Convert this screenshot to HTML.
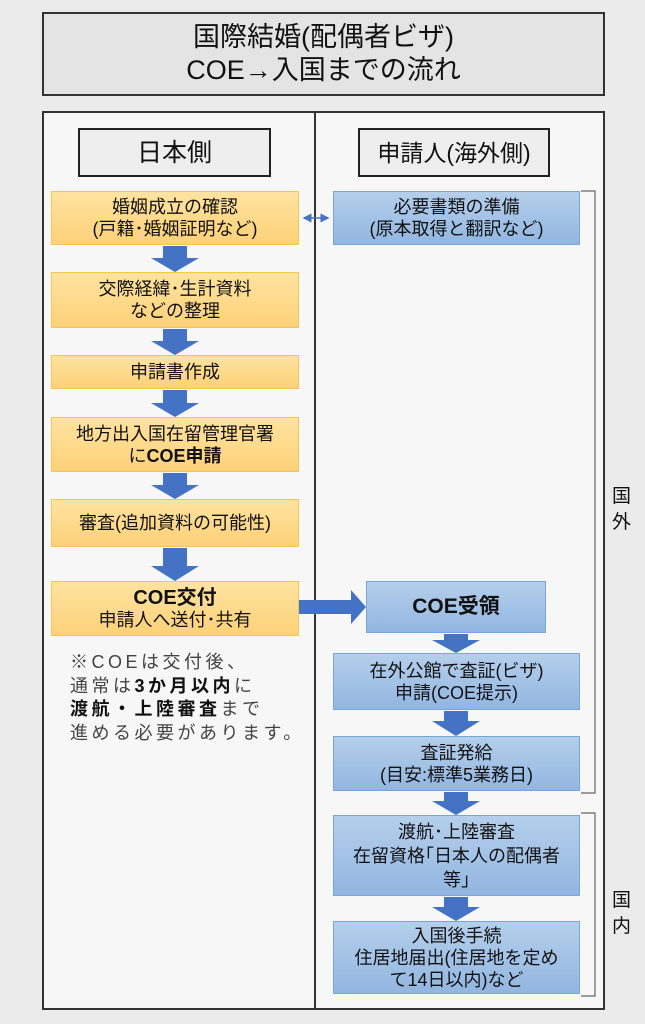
<!DOCTYPE html>
<html><head><meta charset="utf-8"><style>
*{margin:0;padding:0;box-sizing:border-box}
body{width:645px;height:1024px;background:#ebebeb;position:relative;overflow:hidden;font-family:"Liberation Sans","Noto Sans CJK JP",sans-serif;color:#111}
.a{position:absolute}
.box{position:absolute;display:flex;flex-direction:column;align-items:center;justify-content:center;text-align:center;font-size:18px;line-height:22px;white-space:nowrap}
.o{background:linear-gradient(#fee3a0,#fdd179);border:1px solid #f6c451}
.b{background:linear-gradient(#b5cfeb,#92b6e1);border:1px solid #79a6da}
.hd{border:2px solid #222;background:#eeeeee;font-size:23px}
</style></head><body>
<div class="box" style="left:42px;top:12px;width:563px;height:84px;background:#e4e4e4;border:2px solid #333;font-size:27px;line-height:33px;">国際結婚(配偶者ビザ)<br>COE→入国までの流れ</div>
<div class="a" style="left:42px;top:111px;width:563px;height:899px;background:#f7f7f7;border:2px solid #333"></div>
<div class="a" style="left:314px;top:112px;width:2px;height:897px;background:#333"></div>
<div class="box hd" style="left:78px;top:128px;width:193px;height:49px;font-size:25px">日本側</div>
<div class="box hd" style="left:358px;top:128px;width:192px;height:49px;">申請人(海外側)</div>

<div class="box o" style="left:51px;top:191px;width:248px;height:54px">婚姻成立の確認<br>(戸籍･婚姻証明など)</div>
<div class="box o" style="left:51px;top:272px;width:248px;height:56px">交際経緯･生計資料<br>などの整理</div>
<div class="box o" style="left:51px;top:355px;width:248px;height:34px">申請書作成</div>
<div class="box o" style="left:51px;top:417px;width:248px;height:55px">地方出入国在留管理官署<br><span>に<b>COE申請</b></span></div>
<div class="box o" style="left:51px;top:499px;width:248px;height:48px">審査(追加資料の可能性)</div>
<div class="box o" style="left:51px;top:581px;width:248px;height:55px"><b style="font-size:20px">COE交付</b>申請人へ送付･共有</div>

<div class="a" style="left:70px;top:651px;font-size:18px;line-height:23.5px;color:#444;letter-spacing:3.5px">※COEは交付後、<br>通常は<b style="color:#111">3か月以内</b>に<br><b style="color:#111">渡航・上陸審査</b>まで<br>進める必要があります。</div>

<div class="box b" style="left:333px;top:191px;width:247px;height:54px">必要書類の準備<br>(原本取得と翻訳など)</div>
<div class="box b" style="left:366px;top:581px;width:180px;height:52px;font-size:21px"><b>COE受領</b></div>
<div class="box b" style="left:333px;top:653px;width:247px;height:57px">在外公館で査証(ビザ)<br>申請(COE提示)</div>
<div class="box b" style="left:333px;top:736px;width:247px;height:55px">査証発給<br>(目安:標準5業務日)</div>
<div class="box b" style="left:333px;top:815px;width:247px;height:81px;line-height:24px">渡航･上陸審査<br>在留資格｢日本人の配偶者<br>等｣</div>
<div class="box b" style="left:333px;top:921px;width:247px;height:73px;line-height:22px">入国後手続<br>住居地届出(住居地を定め<br>て14日以内)など</div>

<svg class="a" style="left:0;top:0" width="645" height="1024">
<defs><marker id="m" markerWidth="6" markerHeight="6" refX="5" refY="3" orient="auto-start-reverse"><path d="M0,0L6,3L0,6z" fill="#4472c4"/></marker></defs>
<g fill="#4472c4">
<path d="M163,246h24v12h12l-24,14l-24,-14h12z"/>
<path d="M163,329h24v12h12l-24,14l-24,-14h12z"/>
<path d="M163,390h24v13h12l-24,14l-24,-14h12z"/>
<path d="M163,473h24v12h12l-24,14l-24,-14h12z"/>
<path d="M163,548h24v18h12l-24,15l-24,-15h12z"/>
<path d="M444,634h24v6h12l-24,13l-24,-13h12z"/>
<path d="M444,711h24v10h12l-24,15l-24,-15h12z"/>
<path d="M444,792h24v9h12l-24,14l-24,-14h12z"/>
<path d="M444,897h24v10h12l-24,14l-24,-14h12z"/>
<path d="M299,600h52v-10l15,17l-15,17v-10h-52z"/>
</g>
<line x1="304" y1="218" x2="328" y2="218" stroke="#4472c4" stroke-width="1.5" marker-start="url(#m)" marker-end="url(#m)"/>
<g fill="none" stroke="#666" stroke-width="1.2">
<path d="M581,191H595V793H581"/>
<path d="M581,813H595V996H581"/>
</g>
<g font-size="19" fill="#111" font-family="Liberation Sans,Noto Sans CJK JP,sans-serif">
<text x="612" y="502">国</text><text x="612" y="528">外</text>
<text x="612" y="906">国</text><text x="612" y="932">内</text>
</g>
</svg>
</body></html>
